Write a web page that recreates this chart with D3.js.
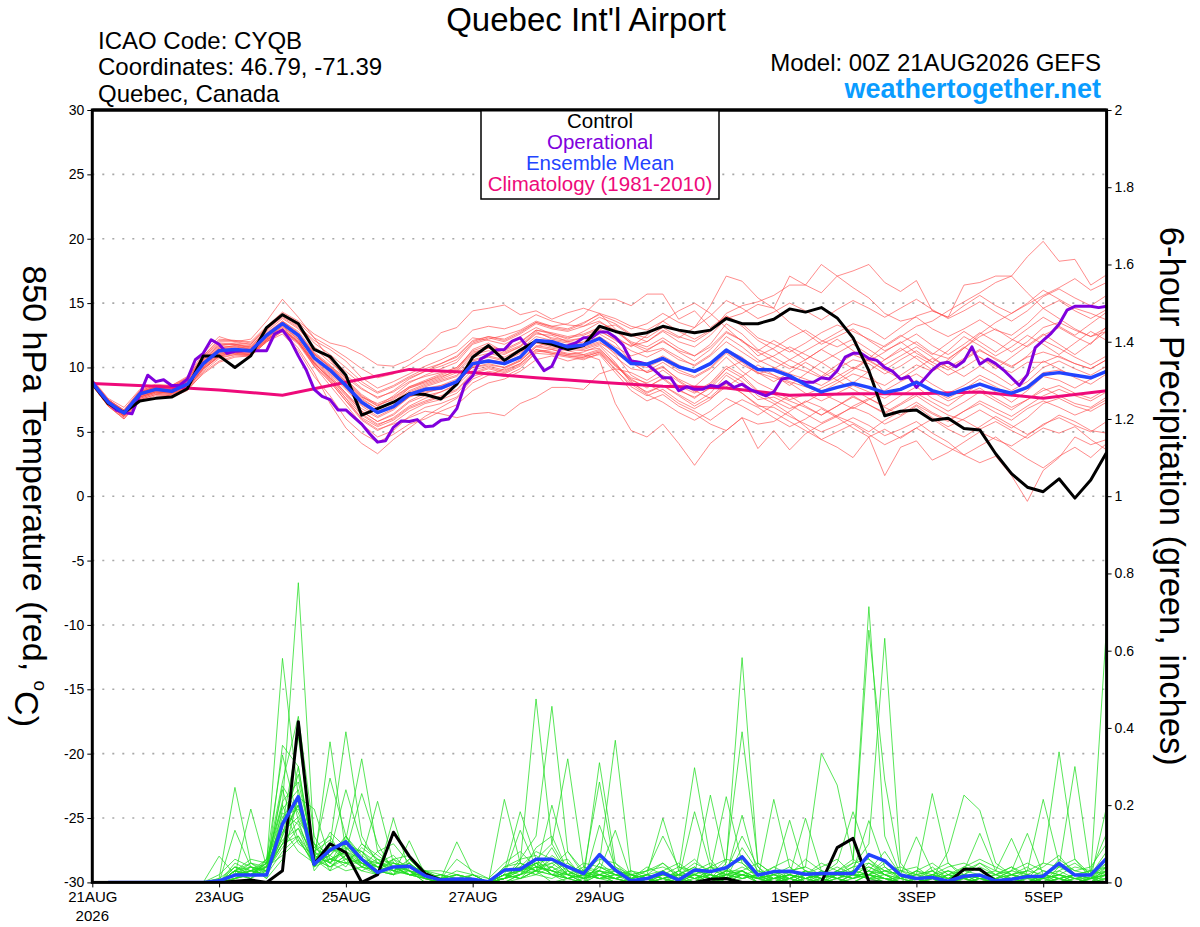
<!DOCTYPE html>
<html><head><meta charset="utf-8">
<script src="https://cdn.jsdelivr.net/npm/d3@7"></script>
<style>
body{margin:0;background:#fff}
svg{display:block}
text{font-family:"Liberation Sans",Arial,Helvetica,sans-serif}
</style>
</head><body>
<svg id="c" width="1200" height="927"></svg>
<script>
// ---------------- DATA ----------------
const runStart = "2026-08-21T00:00:00Z";
const forecastHours = 384;
const xTickDates = ["2026-08-21","2026-08-23","2026-08-25","2026-08-27","2026-08-29","2026-09-01","2026-09-03","2026-09-05"];
const xTickLabels = ["21AUG","23AUG","25AUG","27AUG","29AUG","1SEP","3SEP","5SEP"];
const tempTicks = [-30,-25,-20,-15,-10,-5,0,5,10,15,20,25,30];
const precipTicks = [0,0.2,0.4,0.6,0.8,1,1.2,1.4,1.6,1.8,2];

// 850 hPa temperature, 6-hourly (00Z 21AUG .. 00Z 6SEP)
const controlTemp = [8.75,7.2,6.5,7.4,7.6,7.7,8.35,10.9,10.9,10.0,
 10.9,13.1,14.1,13.4,11.4,10.85,9.4,6.3,6.8,7.3,
 7.95,7.9,7.55,8.7,10.8,11.7,10.55,11.35,12.05,11.8,
 11.4,11.7,13.2,12.8,12.5,12.7,13.2,12.9,12.7,12.9,
 13.8,13.4,13.4,13.75,14.55,14.3,14.65,13.85,12.3,9.75,
 6.25,6.6,6.7,5.9,6.05,5.25,5.15,3.3,1.75,0.7,
 0.35,1.35,-0.15,1.25,3.4];
const meanTemp = [8.8,7.3,6.45,7.95,8.3,8.15,8.7,10.3,11.3,11.4,
 11.3,12.5,13.4,12.5,10.75,9.8,8.6,7.3,6.5,6.95,
 7.9,8.3,8.4,8.9,10.3,10.5,10.3,10.8,12.1,12.0,
 11.6,11.75,12.25,11.35,10.3,10.25,10.7,10.05,9.7,10.3,
 11.35,10.6,9.85,9.8,9.35,8.65,8.1,8.45,8.75,8.45,
 8.05,8.3,8.85,8.2,7.85,8.3,8.7,8.3,8.0,8.45,
 9.45,9.6,9.4,9.2,9.7];
// operational run, 3-hourly
const operationalTemp = [8.9,8.0,7.3,6.7,6.5,6.4,7.9,9.4,8.9,9.05,
 8.6,8.6,9.1,10.6,11.1,12.15,11.8,11.1,11.25,11.3,
 11.3,11.3,11.3,12.6,12.9,12.1,10.9,9.8,8.3,7.75,
 7.5,6.7,6.7,6.15,5.6,4.85,4.2,4.3,5.35,5.85,
 5.8,5.95,5.4,5.45,5.9,6.0,6.8,8.65,9.35,10.65,
 11.0,11.35,11.4,12.05,12.3,11.55,10.65,9.75,10.1,11.4,
 11.7,11.9,12.3,12.3,12.75,12.75,12.35,11.7,10.5,10.4,
 10.25,9.75,9.2,9.2,8.2,8.5,8.3,8.3,8.6,8.5,
 8.9,8.45,8.7,8.3,8.05,7.8,8.1,9.1,9.2,9.0,
 8.85,8.85,9.2,9.1,9.75,10.8,11.1,11.1,10.7,10.55,
 10.0,9.7,9.1,9.3,8.45,9.1,9.8,10.3,10.4,10.05,
 10.5,11.6,10.25,10.65,10.3,9.8,9.2,8.6,9.45,11.55,
 12.1,12.65,13.35,14.45,14.75,14.75,14.75,14.65,14.75];
// climatology, daily
const climoTemp = [8.75,8.55,8.25,7.85,8.85,9.85,9.6,9.2,8.85,8.55,8.4,7.85,7.95,7.95,8.1,7.6,8.2];

// ensemble members, 6-hourly temperature
const memberTemps = [
[8.9,7.5,6.6,8.1,8.5,8.4,9.0,10.8,11.9,11.8,11.6,12.9,14.0,13.2,12.1,11.4,10.5,9.2,8.4,8.9,9.5,10.1,10.6,11.2,12.3,12.1,11.8,12.4,13.1,12.6,12.2,12.8,13.5,12.9,12.0,11.6,12.3,11.5,10.9,11.8,13.4,12.6,11.4,10.8,10.1,9.7,9.2,9.9,10.6,10.3,9.5,10.1,10.9,10.2,9.4,10.0,10.8,10.1,9.6,10.4,10.4,10.9,10.3,9.9,10.6],
[8.7,7.1,6.2,7.7,8.1,8.0,8.4,9.8,10.9,11.2,11.0,12.1,13.0,12.0,10.1,8.6,7.1,5.6,4.6,5.1,6.2,6.9,7.2,7.7,9.1,9.6,9.3,9.9,11.2,11.4,11.0,11.2,11.7,10.4,8.8,8.1,8.6,7.9,7.2,8.0,9.4,8.6,7.5,7.7,7.1,6.4,5.7,6.3,6.9,6.4,5.6,6.2,7.0,6.1,5.4,6.0,6.7,6.0,5.3,6.1,7.2,7.6,7.0,6.6,7.3],
[9.1,7.6,6.9,8.3,8.7,8.6,9.3,11.1,12.4,12.0,12.2,13.6,15.3,13.9,12.3,10.6,9.1,7.9,7.1,7.5,8.4,8.8,9.2,9.8,11.4,11.9,11.2,11.7,12.8,12.2,12.0,11.9,12.4,11.6,10.9,11.3,12.1,11.2,10.5,11.4,12.7,12.1,10.9,11.5,12.3,12.9,12.1,11.6,12.2,11.4,10.6,11.3,12.0,11.1,10.7,11.5,12.4,13.0,12.2,11.6,12.5,13.1,12.4,11.8,13.2],
[8.6,7.0,6.0,7.5,7.9,7.8,8.3,9.5,10.4,10.8,10.9,12.0,12.8,11.5,9.6,7.2,5.3,4.1,3.3,4.4,5.3,6.2,6.9,7.6,8.8,9.4,9.9,10.5,11.6,12.0,11.7,12.0,12.6,11.9,10.4,9.6,10.0,9.1,8.5,9.6,10.8,9.7,8.8,8.2,7.5,7.9,8.4,9.0,8.3,7.6,7.0,7.8,8.5,7.6,7.0,7.9,8.8,8.1,7.3,8.2,9.3,9.0,8.4,9.1,9.8],
[9.0,7.4,6.5,8.0,8.5,8.5,9.2,10.9,12.2,12.1,12.0,13.2,14.3,13.6,12.6,11.9,11.6,11.0,10.2,10.1,10.6,11.5,12.7,13.1,14.4,14.6,14.85,14.1,14.4,13.75,14.25,14.6,14.2,13.0,11.8,11.2,11.5,10.8,10.1,10.9,12.0,11.2,10.4,10.9,11.6,11.0,10.4,11.1,11.8,11.0,10.2,10.9,11.6,10.8,10.0,10.7,11.4,10.6,10.0,10.9,12.1,11.5,10.8,10.2,10.9],
[8.8,7.2,6.3,7.8,8.2,8.1,8.5,10.0,11.0,11.3,11.2,12.3,13.1,12.2,10.3,9.1,7.6,6.0,5.2,5.6,6.1,6.6,6.4,6.1,6.4,6.5,6.25,7.2,7.7,8.45,8.45,8.3,9.5,9.9,9.6,9.0,9.8,8.9,8.1,8.8,10.1,9.4,8.2,7.4,6.8,7.3,8.0,7.4,6.8,7.5,8.2,8.9,9.5,8.7,8.0,8.6,9.4,8.8,8.2,8.9,10.0,10.5,9.9,9.4,10.1],
[8.9,7.4,6.5,8.0,8.3,8.3,8.8,10.4,11.5,11.7,11.6,12.7,13.6,12.8,11.2,10.2,9.0,7.8,7.0,7.8,8.8,9.4,9.9,10.4,11.8,12.2,12.5,12.9,13.6,13.2,13.4,14.1,15.3,15.3,14.8,15.7,15.7,13.75,14.4,13.1,14.0,13.2,12.1,11.4,10.6,10.0,9.3,10.2,11.0,10.5,9.8,10.6,11.3,10.4,9.8,10.6,11.3,10.7,10.1,10.8,11.2,10.8,10.3,9.9,10.6],
[8.7,7.2,6.4,7.8,8.2,8.1,8.6,10.1,11.1,11.2,11.1,12.2,12.9,11.9,10.4,9.3,8.0,6.8,6.1,6.7,7.7,8.2,8.6,8.9,10.0,10.2,10.0,10.6,11.7,11.5,11.3,11.0,10.6,7.2,5.1,4.6,5.6,4.1,2.4,4.1,5.1,6.1,5.6,5.8,6.6,7.4,6.9,6.2,7.0,7.6,6.9,6.3,7.1,6.4,5.8,6.6,7.4,6.8,6.2,7.0,7.8,8.3,7.8,7.4,8.1],
[8.8,7.3,6.5,8.0,8.4,8.3,8.9,10.6,11.7,11.8,11.5,12.6,13.5,12.6,11.0,10.0,8.8,7.6,6.8,7.3,8.4,8.9,9.3,9.7,11.0,11.3,11.0,11.6,12.6,12.5,12.0,12.3,12.8,12.2,11.7,12.0,12.9,12.3,13.1,14.8,17.1,16.7,15.4,14.6,13.5,12.7,11.8,12.4,13.0,12.1,11.3,11.9,12.6,11.7,11.0,11.8,12.7,12.0,11.2,12.0,13.1,13.5,12.9,12.4,12.8],
[8.9,7.4,6.6,8.1,8.4,8.3,8.8,10.3,11.4,11.6,11.4,12.5,13.5,12.6,11.0,10.1,9.2,8.3,7.7,8.1,8.9,9.3,9.6,10.0,11.2,11.5,11.4,12.0,12.9,12.7,12.4,12.6,13.1,13.3,12.5,12.0,12.8,12.0,11.6,12.5,13.8,14.2,14.9,14.6,17.1,16.4,15.8,17.1,16.2,15.4,14.2,13.6,13.9,13.0,12.4,13.0,13.7,12.9,12.5,13.4,14.6,15.2,14.4,13.8,14.5],
[8.7,7.1,6.2,7.6,8.0,7.9,8.4,9.9,10.8,11.0,11.0,12.2,13.0,12.1,10.5,9.4,8.0,6.6,5.8,6.3,7.3,7.8,8.1,8.6,9.8,10.1,9.8,10.3,11.4,11.1,10.9,10.7,11.0,9.6,8.2,7.4,7.9,7.0,6.4,5.6,5.1,6.1,3.7,5.1,3.6,4.85,5.6,6.2,5.7,5.0,5.9,6.6,7.3,6.5,5.9,6.6,7.2,6.5,5.9,6.8,7.4,6.9,6.3,6.8,7.5],
[9.0,7.5,6.6,8.1,8.5,8.5,9.1,10.7,11.8,11.8,11.7,12.8,13.8,13.0,11.6,10.7,9.7,8.7,8.0,8.5,9.2,9.7,10.1,10.6,11.9,12.3,12.0,12.6,13.4,13.0,12.8,13.2,13.9,13.4,12.6,12.3,13.1,12.4,12.0,12.8,14.2,14.8,15.1,15.6,16.4,16.4,18.0,17.1,17.5,18.0,16.6,15.9,16.75,14.4,13.9,14.8,15.6,14.8,14.2,15.0,16.0,15.3,14.6,14.2,13.7],
[8.8,7.2,6.3,7.7,8.1,8.0,8.6,10.1,11.1,11.3,11.2,12.3,13.2,12.3,10.6,9.5,8.3,7.0,6.2,6.8,7.7,8.1,8.3,8.8,10.0,10.3,10.0,10.5,11.6,11.4,11.1,11.0,11.4,10.3,9.0,8.5,9.1,8.2,7.7,8.4,9.6,8.9,7.8,7.2,6.4,5.4,4.4,3.8,3.0,4.6,1.6,3.8,4.3,2.8,3.4,4.2,5.0,4.4,3.9,4.7,5.6,6.1,5.5,5.0,5.8],
[8.9,7.4,6.5,7.9,8.3,8.2,8.7,10.2,11.3,11.4,11.3,12.4,13.3,12.4,10.8,9.8,8.7,7.4,6.6,7.1,8.1,8.6,9.0,9.4,10.6,10.9,10.6,11.2,12.2,12.0,11.7,11.6,12.0,11.1,10.3,10.0,10.6,9.8,9.3,10.0,11.2,10.4,9.5,9.9,10.6,11.3,12.0,12.7,13.4,13.0,12.2,13.1,14.0,14.4,13.9,16.4,16.6,17.1,17.1,15.8,14.6,13.8,13.0,12.4,13.1],
[8.6,7.0,6.1,7.5,7.9,7.8,8.3,9.7,10.7,11.0,10.9,12.0,12.8,11.8,10.1,8.9,7.4,5.9,5.1,5.7,6.6,7.2,7.5,8.0,9.3,9.7,9.5,10.1,11.1,11.0,10.8,10.6,11.1,9.9,8.5,7.8,8.3,7.4,6.8,7.5,8.7,8.0,7.0,6.9,6.2,5.6,5.0,5.5,6.1,5.5,4.7,5.2,5.8,4.9,4.2,3.2,2.6,3.1,1.6,-0.4,2.0,3.0,4.6,4.0,4.4],
[9.0,7.5,6.7,8.2,8.6,8.5,9.1,10.8,12.0,12.0,11.8,13.0,14.1,13.3,11.9,11.0,10.0,8.9,8.1,8.6,9.3,9.9,10.3,10.9,12.1,12.4,12.2,12.8,13.5,13.1,12.9,13.4,14.2,13.8,13.2,12.9,13.6,12.8,12.2,12.9,14.0,13.4,12.3,11.8,11.2,11.9,12.7,13.3,12.8,12.2,11.6,12.4,13.2,13.6,14.4,15.1,15.8,16.6,17.1,18.6,19.8,18.25,18.4,16.4,17.2],
[8.8,7.3,6.4,7.9,8.3,8.2,8.7,10.2,11.2,11.3,11.2,12.4,13.3,12.5,10.9,9.7,8.4,7.1,6.4,7.0,8.0,8.5,8.9,9.3,10.5,10.8,10.5,11.1,12.1,11.9,11.6,11.5,11.9,11.3,10.6,10.3,10.9,10.2,9.6,10.2,11.4,10.8,9.8,9.4,8.9,8.5,8.1,8.8,9.5,9.1,8.6,9.4,10.2,9.7,10.4,11.5,12.6,13.5,14.2,14.9,15.6,16.2,16.9,16.0,16.6],
[8.7,7.1,6.2,7.6,8.0,7.9,8.4,9.9,10.9,11.1,11.0,12.1,12.9,12.0,10.3,9.2,7.8,6.4,5.6,6.0,6.9,7.4,7.8,8.3,9.6,10.0,9.7,10.3,11.4,11.2,11.0,10.9,11.3,10.2,9.2,8.8,9.4,8.6,8.0,8.7,9.9,9.2,8.1,7.9,7.4,6.9,6.3,7.0,7.7,7.1,6.4,7.1,7.8,7.0,6.3,5.9,5.2,5.8,5.1,4.5,5.3,4.9,5.4,4.4,3.6],
[8.8,7.3,6.4,7.9,8.3,8.2,8.8,10.4,11.4,11.5,11.3,12.5,13.4,12.5,10.7,9.6,8.4,7.2,6.5,7.0,7.9,8.4,8.6,9.1,10.4,10.6,10.4,10.9,12.0,11.8,11.5,11.4,11.8,10.8,9.9,9.7,10.4,9.6,9.2,9.9,11.1,10.2,9.6,9.2,8.8,8.0,7.4,8.0,8.6,8.1,7.6,8.3,9.0,8.2,7.6,8.3,9.1,8.5,7.8,8.6,9.6,9.8,9.4,9.1,9.8],
[8.9,7.4,6.5,8.0,8.4,8.3,8.9,10.5,11.6,11.6,11.5,12.6,13.6,12.7,11.1,10.1,8.9,7.7,7.2,7.7,8.5,8.9,9.4,9.9,11.1,11.5,11.1,11.6,12.7,12.3,12.1,12.3,12.9,12.1,11.3,10.8,11.4,10.6,10.2,11.0,12.4,11.6,10.6,10.0,9.5,9.1,8.6,9.3,10.0,9.6,8.0,8.4,8.9,8.1,7.4,7.9,8.4,7.6,6.9,7.5,8.2,8.6,8.0,7.6,8.3],
[8.8,7.2,6.3,7.8,8.2,8.1,8.6,10.2,11.2,11.4,11.2,12.3,13.2,12.2,10.4,9.0,7.6,6.3,5.5,6.1,7.0,7.6,8.1,8.7,10.1,10.5,10.2,10.8,11.9,11.6,11.4,11.8,12.2,11.0,9.4,8.7,8.1,7.2,6.6,5.9,6.8,7.5,6.9,6.1,5.4,6.0,6.8,6.1,5.3,4.6,5.2,4.5,5.3,6.0,5.2,4.6,5.4,6.2,5.5,4.8,5.5,6.3,5.8,5.1,4.9],
[9.0,7.5,6.6,8.1,8.5,8.4,9.0,10.6,11.7,11.9,11.8,13.0,13.9,13.1,11.5,10.4,9.4,8.4,7.6,8.2,9.1,9.7,10.3,10.8,12.0,12.4,12.1,12.7,13.5,13.2,13.0,13.5,14.1,13.6,13.0,13.4,14.2,13.5,13.1,14.0,15.2,14.6,13.8,14.3,15.0,14.4,13.7,14.5,15.2,14.6,13.9,14.6,15.3,14.5,13.8,14.4,15.1,14.3,13.6,14.4,15.5,16.1,15.4,14.8,15.6],
[8.6,7.0,6.0,7.4,7.8,7.7,8.2,9.6,10.5,10.9,10.9,12.0,12.6,11.3,9.3,7.8,6.0,4.9,4.2,4.8,5.6,6.0,6.6,7.1,8.2,8.8,9.1,9.7,10.6,10.9,10.5,10.8,11.2,10.1,9.1,8.4,9.2,8.3,7.6,8.5,9.9,10.5,9.6,8.9,9.6,10.4,9.7,9.0,9.8,10.6,9.8,9.1,9.9,10.7,10.0,9.3,10.1,9.4,8.6,9.4,10.5,9.9,9.2,8.7,9.5],
[8.9,7.4,6.5,8.0,8.4,8.3,8.8,10.5,11.5,11.7,11.4,12.6,13.5,12.6,11.1,10.0,8.9,7.7,7.0,7.6,8.5,9.0,9.5,10.0,11.3,11.7,11.3,11.9,12.9,12.6,12.3,12.5,13.0,12.4,11.6,12.5,13.6,14.4,15.0,14.2,13.1,12.0,11.3,12.1,11.4,10.6,11.4,12.2,11.3,10.5,11.2,12.0,11.1,10.4,11.3,12.4,11.7,10.9,11.6,12.5,11.8,11.0,11.9,12.8,12.1],
[8.7,7.2,6.3,7.7,8.1,8.0,8.5,10.0,11.0,11.2,11.1,12.2,13.0,12.0,10.3,9.2,7.9,6.6,5.8,6.4,7.4,8.0,8.4,8.9,10.2,10.5,10.3,10.9,12.0,11.7,11.4,11.3,11.5,10.2,8.9,8.0,8.6,7.8,7.0,7.7,8.8,8.0,7.1,6.5,5.8,5.1,4.4,5.0,5.6,4.8,4.0,4.6,5.3,4.5,3.8,3.2,3.9,4.6,3.7,2.9,2.2,3.1,3.8,3.0,4.1],
[8.8,7.3,6.4,7.9,8.3,8.2,8.7,10.3,11.3,11.4,11.3,12.4,13.4,12.4,10.8,9.7,8.6,7.5,6.8,7.3,8.2,8.7,9.1,9.6,10.8,11.1,10.8,11.4,12.4,12.1,11.9,11.7,12.2,11.3,10.4,9.6,10.1,9.0,8.2,7.6,8.5,9.3,10.2,9.4,8.6,9.5,10.4,9.6,8.8,9.7,10.6,11.5,10.7,9.8,10.6,11.6,10.8,9.9,10.8,11.7,12.6,11.8,11.0,11.9,12.8],
[8.7,7.1,6.2,7.7,8.1,8.0,8.4,9.9,10.9,11.1,11.0,12.1,12.9,11.9,10.2,8.9,7.4,6.1,5.4,5.9,6.8,7.3,7.7,8.2,9.5,9.9,9.6,10.2,11.3,11.1,10.9,10.8,11.2,9.8,8.7,7.9,7.3,6.5,5.9,6.6,7.6,7.0,6.3,7.1,7.8,7.0,6.3,7.0,7.8,7.1,6.5,7.2,8.0,7.3,6.6,7.3,8.1,7.4,6.7,7.5,8.4,7.8,7.2,6.9,7.7],
[9.0,7.5,6.7,8.2,8.6,8.6,9.2,10.9,12.1,12.1,11.9,13.1,14.2,13.5,12.3,11.6,10.8,9.9,9.2,9.5,10.2,10.9,11.3,11.7,12.9,13.2,13.0,13.4,14.1,13.6,13.3,13.2,13.6,12.8,11.9,11.4,12.0,11.3,10.9,11.6,12.8,12.1,11.2,10.5,9.9,10.6,11.4,10.7,9.9,10.7,11.7,12.5,11.8,11.0,11.9,12.8,12.0,11.2,12.1,13.0,13.9,13.2,12.5,13.4,14.3]
];

// 6-hour precipitation (inches), periods ending 06Z 21AUG .. 00Z 6SEP
const controlPrecip = [0,0,0,0,0,0,0,0,
 0.003,0.006,0,0.03,0.416,0.047,0.10,0.077,
 0,0.02,0.13,0.068,0.023,0.006,0.002,0,
 0,0,0,0,0,0,0,0,
 0,0,0,0,0,0,0.008,0.01,
 0,0,0,0,0,0,0.09,0.114,
 0.002,0,0,0,0,0,0.034,0.034,
 0.004,0,0,0,0,0,0,0];
const meanPrecip = [0,0,0,0,0,0,0,0.004,
 0.019,0.019,0.019,0.151,0.222,0.047,0.084,0.105,
 0.06,0.026,0.04,0.042,0.017,0.006,0.009,0.008,
 0.002,0.032,0.034,0.06,0.06,0.04,0.023,0.072,
 0.032,0.004,0.01,0.025,0.006,0.032,0.028,0.038,
 0.066,0.019,0.028,0.029,0.021,0.023,0.023,0.023,
 0.072,0.056,0.019,0.01,0.013,0.003,0.016,0.019,
 0.004,0.008,0.015,0.016,0.049,0.019,0.019,0.062];
const memberPrecips = [
[0,0,0,0,0,0,0,0.068, 0.02,0.01,0.03,0.09,0.14,0.04,0.06,0.05, 0.03,0.02,0.166,0.03,0.01,0,0,0, 0,0.02,0.03,0.05,0.02,0.01,0,0.03, 0.01,0,0,0.02,0.01,0,0.03,0.222, 0.05,0.01,0,0,0.02,0,0,0.01, 0.03,0.01,0,0,0.02,0,0,0, 0,0,0.01,0.05,0.338,0.06,0.01,0.02],
[0,0,0,0,0,0,0,0.01, 0.246,0.05,0.02,0.12,0.2,0.03,0.08,0.1, 0.05,0.04,0.02,0.108,0.02,0,0,0, 0,0,0.01,0.03,0.06,0.02,0,0.02, 0,0,0.01,0,0,0.02,0.01,0.05, 0.582,0.04,0,0.01,0,0,0.02,0.01, 0.05,0.02,0,0,0.01,0,0.02,0.01, 0,0,0,0.01,0.02,0,0,0.04],
[0,0,0,0,0,0,0,0, 0.135,0.04,0.01,0.06,0.22,0.08,0.05,0.12, 0.06,0.03,0.04,0.02,0.03,0.01,0.105,0.02, 0,0.03,0.04,0.02,0.01,0.03,0,0.05, 0.02,0.01,0,0.03,0,0,0.02,0.06, 0.39,0.05,0.02,0,0.01,0,0.03,0.02, 0.01,0,0,0.03,0.01,0,0.02,0.01, 0,0,0,0,0.04,0.3,0.02,0],
[0,0,0,0,0,0,0,0, 0.02,0.19,0.04,0.07,0.11,0.05,0.13,0.09, 0.08,0.05,0.03,0.06,0.02,0.01,0,0, 0,0.215,0.05,0.03,0,0.01,0.02,0.01, 0,0,0.02,0.01,0,0.03,0.01,0.02, 0.174,0.02,0,0.01,0.03,0,0.01,0, 0.02,0.01,0,0,0,0.01,0.03,0.02, 0,0.01,0,0.02,0.01,0,0.01,0.05],
[0,0,0,0,0,0,0,0, 0.03,0.06,0.05,0.58,0.22,0.06,0.04,0.07, 0.04,0.02,0.05,0.04,0.01,0,0,0.02, 0,0.03,0.183,0.06,0.02,0,0.01,0.03, 0.01,0,0,0.01,0.02,0,0.01,0.03, 0.02,0.01,0.215,0.04,0,0,0.01,0, 0.02,0,0,0,0.01,0,0,0.01, 0,0.02,0.01,0,0.03,0.01,0.02,0.666],
[0,0,0,0,0,0,0,0, 0.01,0.03,0.02,0.355,0.3,0.05,0.07,0.04, 0.1,0.06,0.02,0.03,0,0,0,0, 0,0.02,0.135,0.04,0.03,0.02,0,0.02, 0,0.01,0,0.03,0.01,0,0.04,0.01, 0.03,0,0.02,0.161,0.02,0.01,0,0.02, 0.01,0.01,0,0,0.02,0.03,0.01,0, 0.01,0,0,0.02,0.01,0,0.01,0.196],
[0,0,0,0,0,0,0,0, 0.04,0.02,0.06,0.33,0.16,0.1,0.03,0.05, 0.06,0.04,0.06,0.02,0.02,0,0.01,0, 0,0.01,0.05,0.475,0.1,0.03,0.01,0.04, 0.02,0,0.01,0,0.02,0.01,0,0.03, 0.02,0,0.01,0.02,0.166,0.03,0.01,0, 0.02,0,0.01,0,0,0.02,0.01,0, 0,0.01,0.02,0,0.01,0.02,0.03,0.127],
[0,0,0,0,0,0,0,0, 0.01,0.04,0.03,0.25,0.18,0.08,0.11,0.06, 0.03,0.05,0.04,0.02,0.01,0.02,0,0, 0,0.04,0.06,0.12,0.456,0.08,0.02,0.01, 0.03,0.02,0,0.01,0,0.02,0.01,0.02, 0.01,0.02,0,0.03,0.04,0.334,0.252,0.06, 0.03,0.01,0,0,0.01,0,0.02,0, 0.01,0,0.02,0.01,0,0.01,0,0.02],
[0,0,0,0,0,0,0,0, 0.05,0.03,0.04,0.2,0.776,0.1,0.05,0.03, 0.04,0.03,0.02,0.05,0.01,0,0.02,0.01, 0,0.01,0.04,0.03,0.2,0.05,0.02,0.01, 0.01,0.02,0,0,0.03,0.01,0.02,0, 0.02,0.01,0.03,0,0.01,0.02,0.05,0.183, 0.06,0.02,0,0.01,0.03,0,0,0.01, 0.02,0,0.01,0,0,0.02,0.01,0],
[0,0,0,0,0,0,0,0, 0.03,0.02,0.05,0.26,0.43,0.12,0.05,0.08, 0.04,0.06,0.05,0.03,0,0.01,0,0, 0,0.01,0.02,0.06,0.1,0.32,0.04,0.02, 0.01,0,0.02,0.01,0.02,0,0.01,0.03, 0.03,0,0.01,0.02,0,0.01,0.03,0.06, 0.714,0.12,0.02,0,0.01,0,0.01,0.02, 0,0.01,0,0.02,0.01,0,0,0.03],
[0,0,0,0,0,0,0,0, 0.02,0.05,0.03,0.15,0.377,0.07,0.09,0.06, 0.08,0.04,0.03,0.02,0.02,0.01,0,0.01, 0,0.02,0.01,0.05,0.06,0.03,0.01,0.31, 0.05,0.01,0,0.02,0.01,0.02,0,0.01, 0.02,0.01,0.02,0,0.02,0.01,0.03,0.05, 0.653,0.265,0.03,0.01,0,0.02,0,0.01, 0,0.02,0.01,0.01,0.02,0.01,0,0.02],
[0,0,0,0,0,0,0,0, 0.01,0.03,0.02,0.12,0.3,0.06,0.04,0.07, 0.05,0.03,0.04,0.02,0.03,0,0.01,0, 0,0.01,0.05,0.03,0.02,0.02,0.03,0.26, 0.03,0,0.01,0,0.02,0.04,0.01,0, 0.01,0.02,0.01,0.01,0,0.02,0.02,0.03, 0.16,0.04,0.01,0,0.02,0.01,0,0.02, 0.01,0,0,0.01,0,0.02,0.01,0.01],
[0,0,0,0,0,0,0,0, 0.02,0.04,0.03,0.1,0.22,0.19,0.06,0.05, 0.05,0.03,0.06,0.04,0.01,0,0,0.02, 0,0,0.02,0.04,0.03,0.01,0,0.148, 0.04,0.02,0.01,0.03,0,0.01,0.02,0.01, 0.03,0.01,0,0.02,0.01,0,0.02,0.04, 0.1,0.632,0.05,0,0.01,0,0.02,0, 0,0.01,0,0,0.02,0.01,0,0.01],
[0,0,0,0,0,0,0,0, 0.03,0.02,0.04,0.14,0.08,0.05,0.364,0.08, 0.05,0.02,0.04,0.03,0.02,0,0,0.01, 0,0.01,0.03,0.02,0.04,0.02,0,0.05, 0.368,0.02,0.01,0,0.01,0.02,0,0.02, 0.01,0.02,0,0.01,0.03,0.01,0,0.02, 0.01,0.03,0.02,0.118,0.03,0,0.01,0, 0,0.01,0.02,0,0.01,0,0.01,0.02],
[0,0,0,0,0,0,0,0, 0.02,0.03,0.06,0.2,0.1,0.07,0.27,0.12, 0.04,0.03,0.02,0.06,0.02,0.01,0,0, 0,0,0.02,0.05,0.02,0.01,0.02,0.03, 0.135,0.01,0.02,0.01,0,0.03,0.02,0, 0.02,0,0.01,0.02,0,0.01,0.02,0.01, 0.03,0.02,0.01,0.02,0.23,0.05,0.01,0, 0.01,0,0,0.02,0,0.01,0.01,0.03],
[0,0,0,0,0,0,0,0, 0.01,0.02,0.05,0.18,0.15,0.06,0.1,0.39, 0.12,0.05,0.03,0.02,0.01,0,0,0, 0,0.02,0.01,0.03,0.02,0.04,0.01,0.02, 0.01,0,0.02,0.166,0.03,0.01,0,0.02, 0.02,0.01,0,0.02,0.01,0.02,0.01,0.03, 0.02,0.01,0,0,0.01,0.08,0.226,0.187, 0.05,0.02,0,0.01,0.02,0,0.01,0.02],
[0,0,0,0,0,0,0,0, 0.03,0.02,0.03,0.1,0.12,0.04,0.08,0.24, 0.1,0.07,0.04,0.03,0.02,0.01,0.02,0, 0,0.01,0.02,0.04,0.03,0.01,0.02,0.03, 0.02,0.01,0.03,0.12,0.04,0.02,0.01,0, 0.02,0.03,0.01,0,0.02,0.01,0.03,0.02, 0.01,0.02,0,0.01,0,0.02,0.03,0.127, 0.03,0.01,0.02,0,0.01,0.02,0,0.01],
[0,0,0,0,0,0,0,0, 0.02,0.03,0.04,0.16,0.2,0.05,0.07,0.11, 0.32,0.08,0.04,0.02,0.01,0.01,0,0, 0,0.02,0.03,0.05,0.02,0.01,0.03,0.01, 0.02,0.01,0,0.01,0.03,0.297,0.06,0.01, 0.02,0.01,0.02,0.01,0,0.03,0.01,0.02, 0.01,0,0.02,0.01,0.02,0,0.01,0.02, 0.03,0.114,0.02,0,0.01,0.02,0.01,0.03],
[0,0,0,0,0,0,0,0, 0.04,0.02,0.05,0.13,0.17,0.09,0.06,0.08, 0.23,0.1,0.03,0.05,0.01,0.02,0.01,0, 0,0.01,0.02,0.03,0.05,0.02,0.01,0.02, 0.01,0.02,0.01,0.02,0.01,0.183,0.04,0.02, 0.03,0.01,0.01,0.02,0.01,0.02,0.02,0.01, 0.02,0.01,0.01,0,0.01,0.03,0.01,0, 0.02,0.03,0.127,0.02,0.01,0,0.01,0.02],
[0,0,0,0,0,0,0,0, 0.03,0.01,0.04,0.11,0.14,0.07,0.05,0.09, 0.06,0.21,0.05,0.04,0.03,0.03,0.02,0.01, 0,0.02,0.01,0.03,0.04,0.01,0.02,0.02, 0.03,0.01,0,0.02,0.02,0.02,0.226,0.04, 0.01,0.02,0,0.01,0.03,0.01,0,0.02, 0.02,0.03,0.01,0.02,0,0.01,0.02,0.01, 0.01,0.02,0.03,0.215,0.05,0.02,0.01,0.04],
[0,0,0,0,0,0,0,0, 0.02,0.03,0.05,0.21,0.26,0.08,0.04,0.06, 0.05,0.03,0.02,0.04,0.03,0.01,0.06,0.03, 0.01,0.05,0.08,0.04,0.03,0.05,0.02,0.01, 0.02,0.01,0.04,0.02,0.01,0.03,0.05,0.02, 0.04,0.02,0.01,0.03,0.02,0.05,0.03,0.01, 0.02,0.04,0.01,0.02,0.03,0.01,0.02,0.04, 0.02,0.01,0.03,0.02,0.04,0.06,0.02,0.08],
[0,0,0,0,0,0,0,0.02, 0.06,0.04,0.03,0.17,0.19,0.1,0.07,0.12, 0.07,0.04,0.05,0.03,0.02,0.01,0.01,0, 0,0.01,0.04,0.08,0.06,0.02,0.01,0.04, 0.03,0.02,0,0.01,0.03,0.06,0.02,0.01, 0.09,0.03,0.02,0.01,0.03,0.02,0.01,0.03, 0.04,0.02,0.01,0.03,0.05,0.02,0.01,0.02, 0.01,0.03,0.02,0.04,0.07,0.02,0.03,0.02],
[0,0,0,0,0,0,0,0, 0.01,0.02,0.02,0.08,0.12,0.06,0.09,0.07, 0.04,0.08,0.1,0.05,0.02,0.01,0.03,0.02, 0,0.02,0.01,0.02,0.07,0.04,0.03,0.06, 0.05,0.02,0.03,0.04,0.02,0.01,0.03,0.02, 0.03,0.01,0.04,0.06,0.03,0.01,0.02,0.05, 0.06,0.03,0.02,0.01,0.02,0.04,0.05,0.03, 0.02,0.04,0.01,0.03,0.02,0.01,0.02,0.05],
[0,0,0,0,0,0,0,0, 0.03,0.05,0.04,0.24,0.11,0.05,0.06,0.08, 0.06,0.05,0.07,0.03,0.01,0.02,0,0.01, 0,0.03,0.02,0.09,0.12,0.03,0.01,0.02, 0.01,0.03,0.02,0.05,0.02,0.04,0.01,0.03, 0.12,0.04,0.01,0.02,0.06,0.03,0.02,0.01, 0.03,0.08,0.02,0.01,0.04,0.01,0.03,0.05, 0.03,0.02,0.04,0.01,0.06,0.03,0.04,0.1],
[0,0,0,0,0,0,0,0, 0.02,0.01,0.06,0.15,0.28,0.07,0.05,0.1, 0.08,0.03,0.04,0.02,0.02,0,0.01,0.02, 0.01,0.01,0.03,0.05,0.04,0.08,0.03,0.02, 0.04,0.01,0.02,0.03,0.05,0.02,0.04,0.06, 0.05,0.02,0.03,0.01,0.02,0.04,0.06,0.02, 0.02,0.05,0.03,0.02,0.01,0.02,0.04,0.06, 0.04,0.02,0.01,0.02,0.03,0.05,0.02,0.03],
[0,0,0,0,0,0,0,0.01, 0.04,0.03,0.02,0.13,0.2,0.09,0.12,0.05, 0.09,0.06,0.03,0.04,0.02,0.01,0.02,0.01, 0,0.04,0.05,0.03,0.09,0.02,0.04,0.03, 0.02,0.03,0.01,0.02,0.04,0.03,0.02,0.01, 0.03,0.05,0.02,0.04,0.01,0.03,0.02,0.04, 0.05,0.03,0.04,0.02,0.03,0.05,0.02,0.01, 0.01,0.03,0.05,0.03,0.02,0.04,0.03,0.04],
[0,0,0,0,0,0,0,0, 0.01,0.02,0.04,0.1,0.16,0.04,0.08,0.09, 0.05,0.02,0.06,0.07,0.03,0.02,0.01,0, 0,0.02,0.03,0.04,0.05,0.06,0.01,0.07, 0.03,0.01,0.02,0.01,0.02,0.05,0.03,0.04, 0.06,0.01,0.02,0.03,0.04,0.02,0.01,0.03, 0.02,0.06,0.01,0.03,0.02,0.01,0.04,0.03, 0.01,0.02,0.03,0.05,0.04,0.02,0.01,0.06],
[0,0,0,0,0,0,0,0, 0.03,0.04,0.01,0.19,0.24,0.06,0.03,0.11, 0.06,0.04,0.03,0.05,0.02,0.01,0.02,0.01, 0,0.01,0.06,0.07,0.03,0.02,0.05,0.04, 0.02,0.02,0.03,0.05,0.01,0.02,0.04,0.03, 0.07,0.02,0.04,0.02,0.01,0.02,0.04,0.02, 0.04,0.02,0.03,0.04,0.01,0.03,0.02,0.05, 0.02,0.04,0.02,0.01,0.05,0.03,0.02,0.04]
];

// text
const titleText = "Quebec Int'l Airport";
const infoLines = ["ICAO Code: CYQB","Coordinates: 46.79, -71.39","Quebec, Canada"];
const modelText = "Model: 00Z 21AUG2026 GEFS";
const siteText = "weathertogether.net";
const legendItems = ["Control","Operational","Ensemble Mean","Climatology (1981-2010)"];
const legendColors = ["#000000","#8000dd","#2244ff","#ee0a7a"];
const leftTitleParts = ["850 hPa Temperature (red, ","o","C)"];
const rightTitle = "6-hour Precipitation (green, inches)";

// ---------------- DRAW ----------------
const svg = d3.select("#c");
const L = 92.3, R = 1106.6, T = 110, B = 882.4;
const t0 = new Date(runStart).getTime();
const HR = 3600e3;
const x = d3.scaleUtc().domain([new Date(t0), new Date(t0 + forecastHours*HR)]).range([L, R]);
const yT = d3.scaleLinear().domain([-30, 30]).range([B, T]);
const yP = d3.scaleLinear().domain([0, 2]).range([B, T]);

function series(arr, stepH, offsetH){ return arr.map((v,i)=>({t:new Date(t0 + (offsetH + i*stepH)*HR), v})); }
const lineT = d3.line().x(d=>x(d.t)).y(d=>yT(d.v));
const lineP = d3.line().x(d=>x(d.t)).y(d=>yP(d.v));

svg.append("rect").attr("width",1200).attr("height",927).attr("fill","#fff");
svg.append("clipPath").attr("id","plotclip").append("rect")
  .attr("x",L).attr("y",T).attr("width",R-L).attr("height",B-T);

// gridlines
const grid = svg.append("g");
tempTicks.filter(v=>v>-30 && v<30).forEach(v=>{
  grid.append("line").attr("x1",L).attr("x2",R).attr("y1",yT(v)).attr("y2",yT(v))
    .attr("stroke","#a8a8a8").attr("stroke-width",1.6).attr("stroke-dasharray","2,8");
});

const plot = svg.append("g").attr("clip-path","url(#plotclip)");
memberTemps.forEach(m=>{
  plot.append("path").datum(series(m,6,0)).attr("d",lineT)
    .attr("fill","none").attr("stroke","#ff4a4a").attr("stroke-width",0.75).attr("stroke-opacity",0.85);
});
memberPrecips.forEach(m=>{
  plot.append("path").datum(series(m,6,6)).attr("d",lineP)
    .attr("fill","none").attr("stroke","#22dd22").attr("stroke-width",0.75);
});
plot.append("path").datum(series(climoTemp,24,0)).attr("d",lineT)
  .attr("fill","none").attr("stroke",legendColors[3]).attr("stroke-width",3);
plot.append("path").datum(series(operationalTemp,3,0)).attr("d",lineT)
  .attr("fill","none").attr("stroke",legendColors[1]).attr("stroke-width",3).attr("stroke-linejoin","round");
plot.append("path").datum(series(controlTemp,6,0)).attr("d",lineT)
  .attr("fill","none").attr("stroke",legendColors[0]).attr("stroke-width",3).attr("stroke-linejoin","round");
plot.append("path").datum(series(controlPrecip,6,6)).attr("d",lineP)
  .attr("fill","none").attr("stroke",legendColors[0]).attr("stroke-width",3).attr("stroke-linejoin","round");
plot.append("path").datum(series(meanTemp,6,0)).attr("d",lineT)
  .attr("fill","none").attr("stroke",legendColors[2]).attr("stroke-width",3.5).attr("stroke-linejoin","round");
plot.append("path").datum(series(meanPrecip,6,6)).attr("d",lineP)
  .attr("fill","none").attr("stroke",legendColors[2]).attr("stroke-width",3.5).attr("stroke-linejoin","round");

// axes
const fontFam = '"Liberation Sans",Arial,Helvetica,sans-serif';
const axL = svg.append("g").attr("transform",`translate(${L},0)`)
  .call(d3.axisLeft(yT).tickValues(tempTicks).tickSize(5).tickPadding(3).tickFormat(d=>String(d)));
const axR = svg.append("g").attr("transform",`translate(${R},0)`)
  .call(d3.axisRight(yP).tickValues(precipTicks).tickSize(5).tickPadding(3).tickFormat(d=>String(d)));
const xDates = xTickDates.map(s=>new Date(s+"T00:00:00Z"));
const axB = svg.append("g").attr("transform",`translate(0,${B})`)
  .call(d3.axisBottom(x).tickValues(xDates).tickSize(5).tickPadding(4).tickFormat((d,i)=>xTickLabels[i]));
[axL,axR,axB].forEach(a=>{
  a.select(".domain").remove();
  a.selectAll(".tick line").attr("stroke","#000").attr("stroke-width",1);
  a.selectAll(".tick text").attr("fill","#000").style("font-family",fontFam).style("font-size","14px");
});
axB.selectAll(".tick text").style("font-size","15px");
svg.append("text").attr("x",x(xDates[0])).attr("y",B+39).attr("text-anchor","middle")
  .style("font-size","15px").text(runStart.slice(0,4));

// frame
svg.append("rect").attr("x",L).attr("y",T).attr("width",R-L).attr("height",B-T)
  .attr("fill","none").attr("stroke","#000").attr("stroke-width",3);

// legend
const lg = svg.append("g");
lg.append("rect").attr("x",481).attr("y",T).attr("width",238).attr("height",89)
  .attr("fill","#fff").attr("stroke","#000").attr("stroke-width",1.5);
legendItems.forEach((s,i)=>{
  lg.append("text").attr("x",600).attr("y",127.5+i*21.3).attr("text-anchor","middle")
    .style("font-size","20.5px").attr("fill",legendColors[i]).text(s);
});
svg.append("line").attr("x1",L).attr("x2",R).attr("y1",T).attr("y2",T).attr("stroke","#000").attr("stroke-width",3);

// titles
svg.append("text").attr("x",586).attr("y",30.5).attr("text-anchor","middle").style("font-size","33px").text(titleText);
infoLines.forEach((s,i)=>{
  svg.append("text").attr("x",98).attr("y",48.5+i*26.5).style("font-size","24px").text(s);
});
svg.append("text").attr("x",1101).attr("y",71).attr("text-anchor","end").style("font-size","24px").text(modelText);
svg.append("text").attr("x",1101).attr("y",97.5).attr("text-anchor","end").style("font-size","27px")
  .style("font-weight","bold").attr("fill","#0a9cff").text(siteText);

const lt = svg.append("text").attr("transform",`translate(35,${(T+B)/2}) rotate(90)`).attr("text-anchor","middle")
  .attr("dy","0.35em").style("font-size","34px");
lt.append("tspan").text(leftTitleParts[0]);
lt.append("tspan").style("font-size","19px").attr("dy","-0.55em").text(leftTitleParts[1]);
lt.append("tspan").attr("dy","0.55em").text(leftTitleParts[2]);
svg.append("text").attr("transform",`translate(1172,${(T+B)/2}) rotate(90)`).attr("text-anchor","middle")
  .attr("dy","0.35em").style("font-size","34.5px").text(rightTitle);
</script>
</body></html>
